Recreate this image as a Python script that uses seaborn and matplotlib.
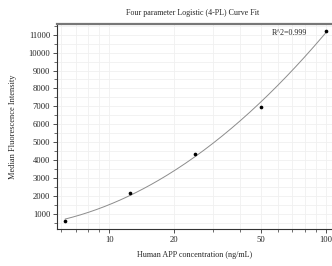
import numpy as np
import pandas as pd
import matplotlib
matplotlib.use("Agg")
import matplotlib.pyplot as plt
import matplotlib.ticker as mticker
import seaborn as sns

# standard curve data
concentration = [6.25, 12.5, 25, 50, 100]
mfi = [625, 2150, 4330, 6940, 11220]
r2_text = "R^2=0.999"

df = pd.DataFrame({"conc": concentration, "mfi": mfi})

# smooth fit in log space for the drawn curve
coef = np.polyfit(np.log10(df["conc"]), df["mfi"], 2)
xs = np.logspace(np.log10(min(concentration)), np.log10(max(concentration)), 200)
fit = pd.DataFrame({"conc": xs, "mfi": np.polyval(coef, np.log10(xs))})

sns.set_style("whitegrid")
plt.rcParams["font.family"] = ["Liberation Serif", "DejaVu Serif"]

fig = plt.figure(figsize=(3.32, 2.66), dpi=100)
ax = fig.add_axes([0.172, 0.139, 0.828, 0.771])

sns.lineplot(data=fit, x="conc", y="mfi", ax=ax, color="#8c8c8c", linewidth=0.7)
sns.scatterplot(data=df, x="conc", y="mfi", ax=ax, color="black", s=7,
                edgecolor="black", linewidth=0, zorder=5)

ax.set_xscale("log")
ax.set_xlim(5.74, 107)
ax.set_ylim(150, 11600)
ax.xaxis.set_major_locator(mticker.FixedLocator([10, 20, 50, 100]))
ax.xaxis.set_major_formatter(mticker.FixedFormatter(["10", "20", "50", "100"]))
ax.xaxis.set_minor_locator(mticker.FixedLocator([6, 7, 8, 9, 30, 40, 60, 70, 80, 90]))
ax.xaxis.set_minor_formatter(mticker.NullFormatter())
ax.yaxis.set_major_locator(mticker.MultipleLocator(1000))
ax.yaxis.set_minor_locator(mticker.MultipleLocator(500))

ax.grid(True, which="both", color="#f0f0f0", linewidth=0.6)
ax.tick_params(which="both", direction="out", color="#333333", labelsize=6.2,
               pad=2, bottom=True, left=True)
ax.tick_params(which="major", length=3, width=0.6)
ax.tick_params(which="minor", length=2, width=0.5)

for side in ["left", "bottom"]:
    ax.spines[side].set_color("#333333")
    ax.spines[side].set_linewidth(0.8)
ax.spines["top"].set_color("#777777")
ax.spines["top"].set_linewidth(1.6)
ax.spines["right"].set_visible(False)

ax.set_xlabel("Human APP concentration (ng/mL)", fontsize=5.9, labelpad=5)
ax.set_ylabel("Median Fluorescence Intensity", fontsize=6.0, labelpad=8)
ax.text(0.78, 0.955, r2_text, transform=ax.transAxes, fontsize=5.8, va="center")
fig.text(0.579, 0.952, "Four parameter Logistic (4-PL) Curve Fit", ha="center",
         va="center", fontsize=5.8)

fig.savefig("out.png", dpi=100)
